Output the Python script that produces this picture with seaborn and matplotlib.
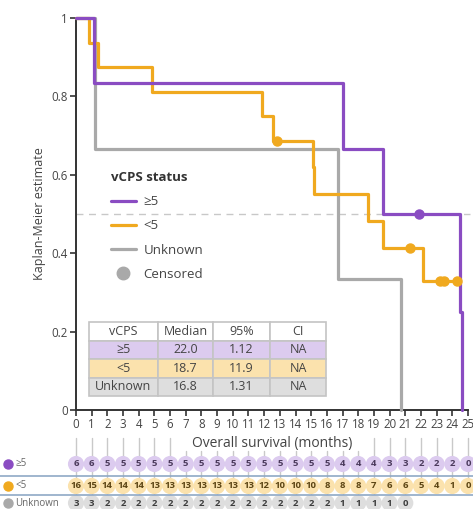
import matplotlib
matplotlib.use("Agg")
import matplotlib.pyplot as plt
from matplotlib.lines import Line2D
import numpy as np
import pandas as pd
import seaborn as sns

# ---- data ----
groups = ["≥5", "<5", "Unknown"]
line_colors = ["#8a4cc2", "#f0a91f", "#a9a9a9"]
fill_colors = ["#dccbef", "#fbe2ad", "#dedede"]
text_colors = ["#4b3a5c", "#5c4514", "#3d3d3d"]

# step curves (time in months, KM estimate)
t_hi = [0, 1.15, 17.0, 19.6, 24.5, 24.6]
s_hi = [1.0, 0.833, 0.667, 0.5, 0.25, 0.0]
t_lo = [0, 0.8, 1.4, 4.85, 11.85, 12.55, 15.1, 15.2, 18.6, 19.6, 22.1, 24.4]
s_lo = [1.0, 0.9375, 0.875, 0.8125, 0.75, 0.6875, 0.619, 0.55, 0.481, 0.4125, 0.33, 0.33]
t_unk = [0, 1.2, 16.7, 20.7]
s_unk = [1.0, 0.667, 0.333, 0.0]

# censored marks
cens_t_hi = [21.9]
cens_s_hi = [0.5]
cens_t_lo = [12.85, 21.3, 23.2, 23.5, 24.3]
cens_s_lo = [0.6875, 0.4125, 0.33, 0.33, 0.33]

# median table
tab_header = ["vCPS", "Median", "95%", "CI"]
tab_median = ["22.0", "18.7", "16.8"]
tab_low = ["1.12", "11.9", "1.31"]
tab_ci = ["NA", "NA", "NA"]

# number at risk
months = list(range(26))
risk_hi = [6, 6, 5, 5, 5, 5, 5, 5, 5, 5, 5, 5, 5, 5, 5, 5, 5, 4, 4, 4, 3, 3, 2, 2, 2, 0]
risk_lo = [16, 15, 14, 14, 14, 13, 13, 13, 13, 13, 13, 13, 12, 10, 10, 10, 8, 8, 8, 7, 6, 6, 5, 4, 1, 0]
risk_unk = [3, 3, 2, 2, 2, 2, 2, 2, 2, 2, 2, 2, 2, 2, 2, 2, 2, 1, 1, 1, 1, 0]

sns.set_style("white")
plt.rcParams["font.family"] = ["Open Sans", "DejaVu Sans"]

W, H = 473, 509
fig = plt.figure(figsize=(W / 100, H / 100), dpi=100)


def fx(px):
    return px / W


def fy(py):
    return 1 - py / H


ax = fig.add_axes([fx(76), fy(410), fx(468) - fx(76), fy(18) - fy(410)])

curves = [(t_hi, s_hi), (t_lo, s_lo), (t_unk, s_unk)]
draw_order = [2, 1, 0]
for i in draw_order:
    t, s = curves[i]
    df = pd.DataFrame({"t": t, "s": s})
    sns.lineplot(data=df, x="t", y="s", drawstyle="steps-post", estimator=None,
                 color=line_colors[i], lw=2.3, ax=ax, clip_on=False, zorder=3 + (2 - i))

ax.plot(cens_t_hi, cens_s_hi, "o", color=line_colors[0], ms=6.5, zorder=6, clip_on=False)
ax.plot(cens_t_lo, cens_s_lo, "o", color=line_colors[1], ms=6.5, zorder=5, clip_on=False)

ax.axhline(0.5, xmin=0, xmax=1.005, color="#c8c8c8", lw=1, ls=(0, (5, 4)), zorder=1, clip_on=False)

ax.set_xlim(0, 25)
ax.set_ylim(0, 1)
ax.set_xticks(months)
ax.set_yticks([0, 0.2, 0.4, 0.6, 0.8, 1.0])
ax.set_yticklabels(["0", "0.2", "0.4", "0.6", "0.8", "1"])
ax.tick_params(axis="both", direction="out", length=4, width=1.2, color="#333333",
               labelsize=8.3, labelcolor="#444444", pad=2, bottom=True, left=True)
ax.set_xlabel("Overall survival (months)", fontsize=10, color="#444444", labelpad=3)
ax.set_ylabel("Kaplan-Meier estimate", fontsize=9, color="#444444", labelpad=4)
for side in ["top", "right"]:
    ax.spines[side].set_visible(False)
for side in ["left", "bottom"]:
    ax.spines[side].set_color("#333333")
    ax.spines[side].set_linewidth(1.4)

handles = [Line2D([], [], color=c, lw=2.3) for c in line_colors]
handles.append(Line2D([], [], ls="", marker="o", color="#a9a9a9", ms=9))
leg = ax.legend(handles, groups + ["Censored"], title="vCPS status", loc="upper left",
                bbox_to_anchor=(0.058, 0.64), frameon=False, fontsize=9.5,
                title_fontproperties={"weight": "bold", "size": 9.5},
                handlelength=1.9, labelspacing=0.85, handletextpad=0.6,
                alignment="left", labelcolor="#444444")
leg.get_title().set_color("#333333")

# median table
cell_text = [tab_header] + [[g, m, l, c] for g, m, l, c in zip(groups, tab_median, tab_low, tab_ci)]
cell_cols = [["white"] * 4] + [[fc] * 4 for fc in fill_colors]
tb = ax.table(cellText=cell_text, cellColours=cell_cols, cellLoc="center",
              bbox=[(89 - 76) / 392, (410 - 396) / 392, (326 - 89) / 392, (396 - 322) / 392],
              colWidths=[69, 55, 57, 56], zorder=2)
tb.auto_set_font_size(False)
tb.set_fontsize(9)
for cell in tb.get_celld().values():
    cell.set_edgecolor("#c4c4c4")
    cell.set_linewidth(1.2)
    cell.get_text().set_color("#444444")

# number at risk table
rax = fig.add_axes([fx(76), 0, fx(468) - fx(76), fy(425)])
rax.set_xlim(0, 25)
rax.set_ylim(84, 0)
rax.axis("off")

risks = [risk_hi, risk_lo, risk_unk]
row_y = [39, 61, 78]
middle = range(7, 19)
for m in months:
    top = 26 if m in middle else 13
    bottom = row_y[2] if m < len(risk_unk) else row_y[1]
    rax.plot([m, m], [top, bottom], color="#c9c9c9", lw=1, zorder=1, clip_on=False)

for k in range(3):
    r = risks[k]
    rdf = pd.DataFrame({"m": months[:len(r)], "y": [row_y[k]] * len(r)})
    sns.scatterplot(data=rdf, x="m", y="y", s=135, color=fill_colors[k], edgecolor="none",
                    ax=rax, zorder=2, clip_on=False, legend=False)
    for m, v in zip(months, r):
        rax.text(m, row_y[k], str(v), ha="center", va="center", fontsize=6.8,
                 fontweight="bold", color=text_colors[k], zorder=3)
rax.set_xlabel("")
rax.set_ylabel("")

for py in [476, 495]:
    fig.add_artist(Line2D([0, 1], [fy(py), fy(py)], color="#8fa9c6", lw=1.2))

for k in range(3):
    fig.add_artist(Line2D([fx(8)], [fy(464 + [0, 22, 39][k])], ls="", marker="o", ms=6.5,
                          color=line_colors[k]))
    fig.text(fx(15), fy(464 + [0, 22, 39][k]), groups[k], fontsize=7, color="#666666",
             va="center", ha="left")

fig.savefig("out.png", dpi=100)
